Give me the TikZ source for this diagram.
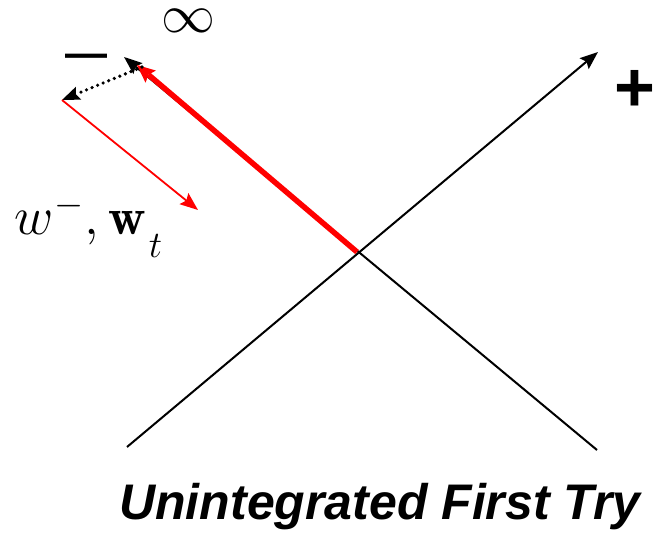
\documentclass[tikz,border=0pt]{standalone}
\usepackage{fontspec}
\usepackage{amsmath}
\newfontfamily\arialfont{Liberation Sans}
\usetikzlibrary{arrows.meta}
\tikzset{
  axisline/.style={line width=2pt, black},
  redthick/.style={line width=5.5pt, red},
  redthin/.style={line width=1.8pt, red},
  dotline/.style={line width=3.6pt, black, line cap=round, dash pattern=on 0pt off 6pt},
  bigtip/.style={-{Stealth[length=18pt,width=14pt,inset=3pt]}},
  plainlabel/.style={inner sep=0pt, outer sep=0pt}
}
\begin{document}
\begin{tikzpicture}[x=1pt,y=-1pt]
\useasboundingbox (0,0) rectangle (654,534);
\coordinate (c) at (357,252);
\coordinate (bl) at (127,447);
\coordinate (tr) at (598,52);
\coordinate (br) at (597,450);
\coordinate (tl) at (124,57);
\coordinate (redend) at (137,65);
\coordinate (dotstart) at (142,67);
\coordinate (wpt) at (62,100);
\coordinate (wend) at (198,210);
% axes
\draw[axisline, bigtip] (bl) -- (tr);
\draw[axisline, bigtip] (br) -- (tl);
% red thick arrow
\draw[redthick, -{Stealth[length=18pt,width=16pt,inset=3pt,line width=0pt]}] (c) -- (redend);
% dotted arrow
\draw[dotline, -{Stealth[length=18pt,width=14pt,inset=3pt,line width=0pt]}] (dotstart) -- (wpt);
% red thin arrow
\draw[redthin, bigtip] (wpt) -- (wend);
% labels
\node[plainlabel, scale=2.6] (inf) at (188,21) {\fontsize{20}{24}\selectfont$\infty$};
\node[plainlabel] (minus) at (86,61) {\fontsize{42}{50}\selectfont\arialfont\bfseries —};
\node[plainlabel] (plus) at (635,91) {\fontsize{70}{80}\selectfont\arialfont\bfseries +};
\node[plainlabel, scale=2.6, anchor=base west] (wlabel) at (15,235) {\fontsize{20}{24}\selectfont$w^{-},\mathbf{w}\mkern1mu\lower8.5pt\hbox{$\scriptstyle t$}$};
\node[plainlabel] (title) at (380,507) {\fontsize{50}{60}\selectfont\arialfont\bfseries\itshape Unintegrated First Try};
\end{tikzpicture}
\end{document}
